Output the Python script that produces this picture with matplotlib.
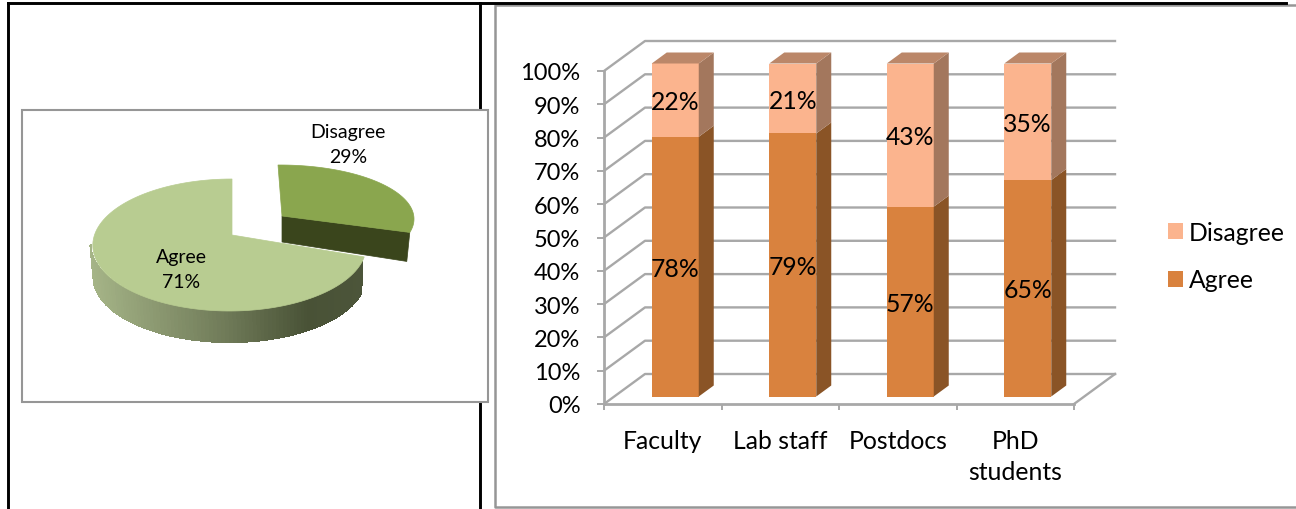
import numpy as np
import matplotlib
matplotlib.use("Agg")
import matplotlib.pyplot as plt
from matplotlib.colors import LinearSegmentedColormap
from matplotlib.patches import Polygon, Rectangle, Patch

plt.rcParams['font.family'] = ['Lato', 'DejaVu Sans']

# Данные
pie_labels = ["Agree", "Disagree"]
pie_values = [71, 29]

groups = ["Faculty", "Lab staff", "Postdocs", "PhD\nstudents"]
agree = [78, 79, 57, 65]
disagree = [22, 21, 43, 35]
yticks = [0, 10, 20, 30, 40, 50, 60, 70, 80, 90, 100]

W, H = 1296, 510
GRID = '#a8a8a8'
FRAME = '#969696'
FS = 17.8

fig = plt.figure(figsize=(W / 100, H / 100), dpi=100, facecolor='white')

# Слой в пикселях: рамки и круговая диаграмма
bg = fig.add_axes([0, 0, 1, 1], zorder=0)
bg.set_xlim(0, W)
bg.set_ylim(H, 0)
bg.axis('off')

# Рамки таблицы
bg.plot([8, 8], [510, 4], color='black', lw=2.1, solid_capstyle='projecting')
bg.plot([8, 1286], [4, 4], color='black', lw=2.1)
bg.plot([480, 480], [4, 510], color='black', lw=2.1)
bg.plot([1296, 494.5, 494.5, 1296], [6, 6, 508, 508], color=FRAME, lw=1.8, zorder=1)
bg.add_patch(Rectangle((22, 111), 466, 292, fc='white', ec=FRAME, lw=1.5, zorder=2))

# --- Псевдо-3D круговая диаграмма ---
start = 90.0
mid = start + 360 * pie_values[0] / 100  # граница секторов


def arc(cx, cy, rx, ry, t0, t1, n=120):
    t = np.radians(np.linspace(t0, t1, n))
    return np.column_stack([cx + rx * np.cos(t), cy - ry * np.sin(t)])


# Боковая поверхность сектора Agree с градиентом
side_cmap = LinearSegmentedColormap.from_list(
    'side', [(0, '#a6b588'), (0.5, '#6f7a58'), (0.8, '#495236'), (1, '#4c553a')])
ts = np.linspace(180, mid, 100)
for t0, t1 in zip(ts[:-1], ts[1:]):
    top = arc(228.5, 246, 138, 66, t0, t1, 2)
    bot = arc(229.5, 278, 136, 65, t0, t1, 2)
    c = side_cmap((top[:, 0].mean() - 90) / 274)
    bg.add_patch(Polygon(np.vstack([top, bot[::-1]]), fc=c, ec=c, lw=0.8, antialiased=False, zorder=3))

# Верх сектора Agree (против часовой стрелки от 12 часов)
agree_top = np.vstack([[[232, 236]], arc(228.5, 246, 138, 66, start, mid + 4)])
agree_top[1:, 0] += np.linspace(3.5, 0, len(agree_top) - 1)
bg.add_patch(Polygon(agree_top, fc='#b8cc91', ec='#b8cc91', lw=0.5, zorder=4))

# Выдвинутый сектор Disagree: срез и верх
slice_arc = arc(280, 220, 134, 54, mid - 360, start)
slice_end = slice_arc[0]
cut = [[282, 217], slice_end, [slice_end[0] - 3, slice_end[1] + 29], [282, 243]]
bg.add_patch(Polygon(cut, fc='#3a451c', ec='#3a451c', lw=0.5, zorder=5))
bg.add_patch(Polygon(np.vstack([[[282, 217]], slice_arc, [[278, 166]]]),
                     fc='#8aa64e', ec='#8aa64e', lw=0.5, zorder=6))

bg.text(181, 270, f"{pie_labels[0]}\n{pie_values[0]}%", ha='center', va='center',
        fontsize=14, linespacing=1.55, zorder=8)
bg.text(348, 145, f"{pie_labels[1]}\n{pie_values[1]}%", ha='center', va='center',
        fontsize=14, linespacing=1.55, zorder=8)

# --- Псевдо-3D столбцы ---
ax = fig.add_axes([604 / W, 1 - 405 / H, 470 / W, 333 / H], zorder=2)
ax.patch.set_alpha(0)
ax.set_xlim(-0.5, 3.5)
ax.set_ylim(0, 100)
px = 470 / 4   # пикселей на категорию
py = 333 / 100  # пикселей на процент

# Задняя стенка и пол
bx, by = 41 / px, 30 / py
for v in yticks:
    ax.plot([-0.5, -0.5 + bx, 3.5 + bx], [v, v + by, v + by], color=GRID, lw=1.7, clip_on=False, zorder=1)
ax.plot([3.5, 3.5 + bx], [0, by], color=GRID, lw=1.7, clip_on=False, zorder=1)

# Столбцы: передняя грань, бок, верх
x = np.arange(len(groups)) + 12.5 / px
floor = 7.5 / py
w = 47 / px
dx, dy = 15 / px, 11 / py
agree_arr = np.array(agree)
disagree_arr = np.array(disagree)
ax.bar(x, agree_arr, w, bottom=floor, color='#d9823e', clip_on=False, zorder=3)
ax.bar(x, disagree_arr, w, bottom=floor + agree_arr, color='#fbb48e', clip_on=False, zorder=3)
for xi, a, d in zip(x, agree_arr, disagree_arr):
    r = xi + w / 2
    l = xi - w / 2
    b0, b1, b2 = floor, floor + a, floor + a + d
    ax.add_patch(Polygon([(r, b0), (r + dx, b0 + dy), (r + dx, b1 + dy), (r, b1)],
                         fc='#8a5426', ec='none', clip_on=False, zorder=3))
    ax.add_patch(Polygon([(r, b1), (r + dx, b1 + dy), (r + dx, b2 + dy), (r, b2)],
                         fc='#a3775d', ec='none', clip_on=False, zorder=3))
    ax.add_patch(Polygon([(l, b2), (l + dx, b2 + dy), (r + dx, b2 + dy), (r, b2)],
                         fc='#bb8769', ec='none', clip_on=False, zorder=3))
    ax.text(xi, floor + a / 2 - 0.5, f"{a}%", ha='center', va='center', fontsize=FS, zorder=5)
    ax.text(xi, floor + a + d / 2 - 0.5, f"{d}%", ha='center', va='center', fontsize=FS, zorder=5)

# Оси
for s in ['top', 'right']:
    ax.spines[s].set_visible(False)
for s in ['left', 'bottom']:
    ax.spines[s].set_color(GRID)
    ax.spines[s].set_linewidth(2)
ax.set_yticks(yticks)
ax.set_yticklabels([f"{v}%" for v in yticks], fontsize=17)
ax.tick_params(axis='y', length=5, width=1.4, color=GRID, pad=12)
ax.set_xticks(np.arange(-0.5, 4))
ax.set_xticklabels([])
ax.tick_params(axis='x', length=4, width=1.4, color=GRID)
ax.set_xticks(np.arange(len(groups)), minor=True)
ax.set_xticklabels(groups, minor=True, fontsize=FS, linespacing=1.42)
ax.tick_params(axis='x', which='minor', length=0, pad=18)

handles = [Patch(fc='#fbb48e', label='Disagree'), Patch(fc='#d9823e', label='Agree')]
ax.legend(handles=handles, loc='center left', bbox_to_anchor=(1168 / W, 1 - 257 / H),
          bbox_transform=fig.transFigure, frameon=False, fontsize=FS, borderpad=0, borderaxespad=0,
          handlelength=0.62, handleheight=0.62, handletextpad=0.22, labelspacing=1.0)

fig.savefig("out.png", dpi=100)
